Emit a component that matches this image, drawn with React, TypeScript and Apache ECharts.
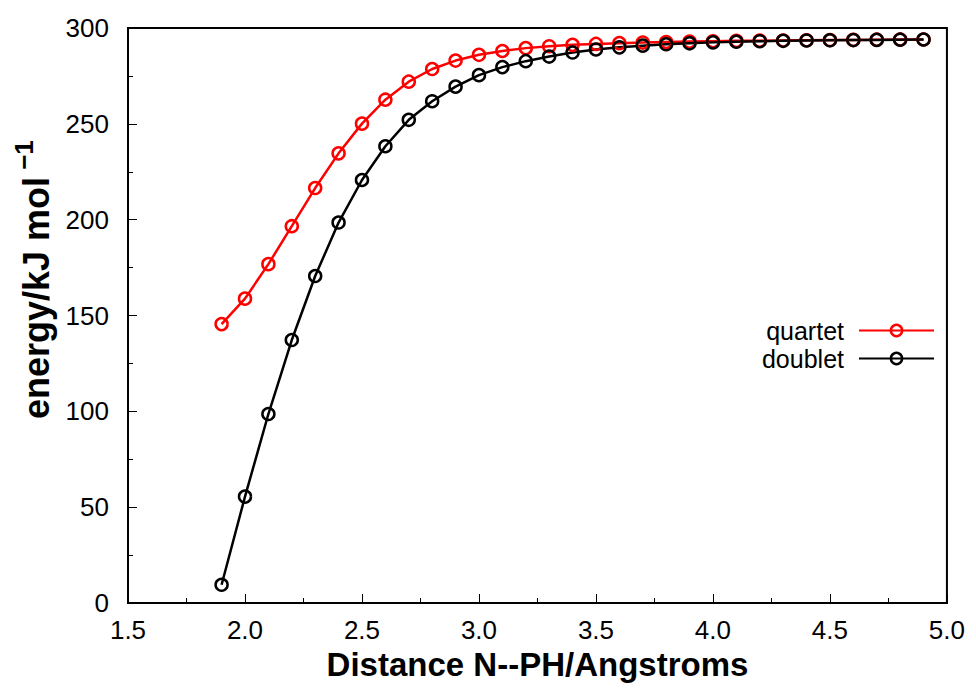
import React, { useEffect, useRef } from "react";
import * as echarts from "echarts";

const distances = [1.9, 2.0, 2.1, 2.2, 2.3, 2.4, 2.5, 2.6, 2.7, 2.8, 2.9, 3.0, 3.1, 3.2, 3.3, 3.4, 3.5, 3.6, 3.7, 3.8, 3.9, 4.0, 4.1, 4.2, 4.3, 4.4, 4.5, 4.6, 4.7, 4.8, 4.9];
const quartet = [145.5, 158.8, 176.8, 196.6, 216.5, 234.6, 250.1, 262.6, 272, 278.6, 283, 286, 288, 289.5, 290.5, 291.2, 291.7, 292.1, 292.4, 292.7, 292.9, 293.1, 293.3, 293.4, 293.5, 293.6, 293.7, 293.8, 293.9, 294, 294];
const doublet = [9.5, 55.5, 98.6, 137.2, 170.6, 198.5, 220.7, 238.3, 252.1, 261.8, 269.4, 275.4, 279.6, 282.7, 285.1, 287.2, 288.8, 289.9, 290.8, 291.5, 292, 292.5, 292.8, 293.1, 293.3, 293.5, 293.6, 293.7, 293.8, 293.9, 294];

const yTitle = "energy/kJ mol";
const yTitleSup = "−1";

const FONT = "Liberation Sans, Arial, Helvetica, sans-serif";

export default function App() {
  const ref = useRef<HTMLDivElement>(null);
  useEffect(() => {
    if (!ref.current) return;
    const chart = echarts.init(ref.current, null, { renderer: "svg" });
    const mk = (name: string, ys: number[], color: string) => ({
      name,
      type: "line",
      data: distances.map((d, i) => [d, ys[i]]),
      symbol: "circle",
      symbolSize: 12,
      showSymbol: true,
      lineStyle: { color, width: 2.5 },
      itemStyle: { color: "rgba(0,0,0,0)", borderColor: color, borderWidth: 2.5 },
      emphasis: { disabled: true },
    });
    chart.setOption({
      animation: false,
      textStyle: { fontFamily: FONT },
      grid: { left: 120, right: 18, top: 20, bottom: 83, show: true, borderColor: "#000", borderWidth: 2, backgroundColor: "transparent" },
      legend: {
        right: 28,
        top: 305,
        orient: "vertical",
        align: "right",
        itemWidth: 75,
        itemHeight: 14,
        itemGap: 3,
        textStyle: { fontSize: 25, lineHeight: 25, color: "#000", fontFamily: FONT, padding: [0, 10, 0, 0] },
        data: [
          { name: "quartet", itemStyle: { color: "rgba(0,0,0,0)", borderColor: "#ff0000", borderWidth: 2.5 } },
          { name: "doublet", itemStyle: { color: "rgba(0,0,0,0)", borderColor: "#000", borderWidth: 2.5 } },
        ],
      },
      graphic: [
        {
          type: "text",
          x: 28,
          y: 290,
          rotation: Math.PI / 2,
          style: {
            text: yTitle,
            align: "center",
            verticalAlign: "middle",
            fill: "#000",
            font: `bold 36px ${FONT}`,
          },
        },
        {
          type: "text",
          x: 16,
          y: 147,
          rotation: Math.PI / 2,
          style: {
            text: yTitleSup,
            align: "center",
            verticalAlign: "middle",
            fill: "#000",
            font: `bold 26px ${FONT}`,
          },
        },
      ],
      xAxis: {
        type: "value",
        min: 1.5,
        max: 5.0,
        interval: 0.5,
        name: "Distance N--PH/Angstroms",
        nameLocation: "middle",
        nameGap: 45,
        nameTextStyle: { fontSize: 33, fontWeight: "bold", color: "#000", fontFamily: FONT },
        axisLine: { lineStyle: { color: "#000", width: 2 } },
        axisTick: { inside: true, length: 9, lineStyle: { color: "#000", width: 1 } },
        minorTick: { show: true, splitNumber: 2, length: 5, lineStyle: { color: "#000", width: 1 } },
        splitLine: { show: false },
        axisLabel: { fontSize: 26, color: "#000", margin: 14, formatter: (v: number) => v.toFixed(1) },
      },
      yAxis: {
        type: "value",
        min: 0,
        max: 300,
        interval: 50,
        axisLine: { lineStyle: { color: "#000", width: 2 } },
        axisTick: { inside: true, length: 9, lineStyle: { color: "#000", width: 1 } },
        minorTick: { show: true, splitNumber: 2, length: 5, lineStyle: { color: "#000", width: 1 } },
        splitLine: { show: false },
        axisLabel: { fontSize: 26, color: "#000", margin: 19 },
      },
      series: [mk("quartet", quartet, "#ff0000"), mk("doublet", doublet, "#000000")],
    });
    return () => chart.dispose();
  }, []);
  return <div ref={ref} style={{ width: 960, height: 678 }} />;
}
